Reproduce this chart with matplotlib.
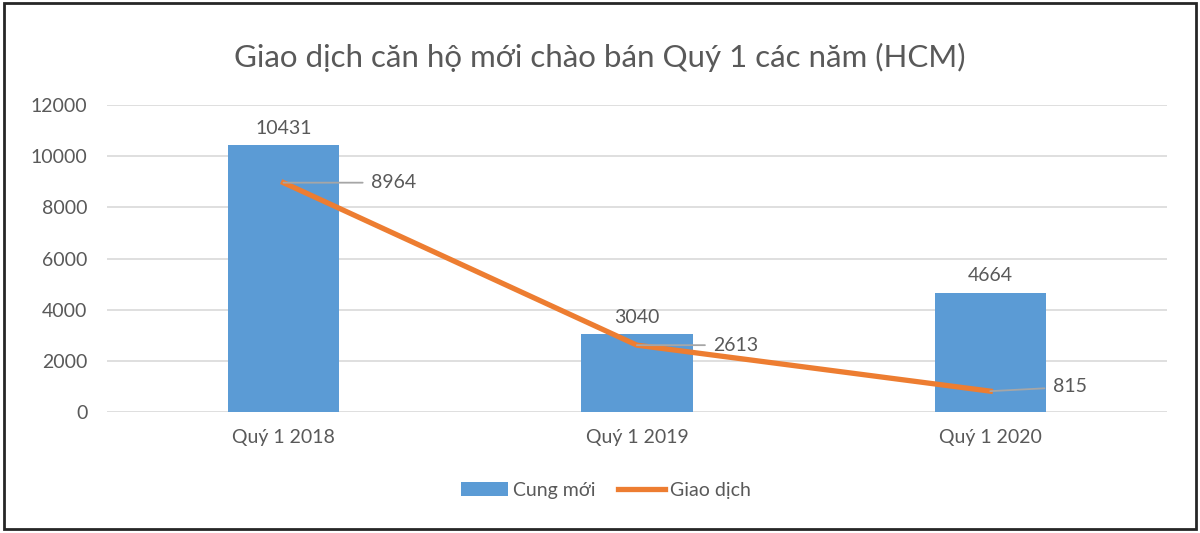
import matplotlib
matplotlib.use("Agg")
import matplotlib.pyplot as plt
from matplotlib.patches import Rectangle

plt.rcParams['font.family'] = ['Lato', 'DejaVu Sans']

categories = ["Quý 1 2018", "Quý 1 2019", "Quý 1 2020"]
cung_moi = [10431, 3040, 4664]
giao_dich = [8964, 2613, 815]
yticks = [0, 2000, 4000, 6000, 8000, 10000, 12000]

BLUE = "#5B9BD5"
ORANGE = "#ED7D31"
TEXT = "#595959"

fig = plt.figure(figsize=(12, 5.33), dpi=100)
ax = fig.add_axes([0.089, 0.227, 0.8835, 0.576])

x = list(range(len(categories)))
bar_c = ax.bar(x, cung_moi, width=0.315, color=BLUE, label="Cung mới", zorder=2)
line_c, = ax.plot(x, giao_dich, color=ORANGE, lw=3.8, label="Giao dịch", zorder=3,
                  solid_joinstyle='round')

ax.set_xlim(-0.5, 2.5)
ax.set_ylim(0, 12000)
ax.set_yticks(yticks)
ax.set_yticklabels([str(v) for v in yticks])
ax.set_xticks(x)
ax.set_xticklabels(categories)
ax.tick_params(axis='both', length=0, colors=TEXT, labelsize=14)
ax.tick_params(axis='y', pad=14)
ax.tick_params(axis='x', pad=12)
ax.grid(axis='y', color="#D9D9D9", lw=1.2, zorder=0)
ax.set_axisbelow(True)
for s in ax.spines.values():
    s.set_visible(False)

for xi, v in zip(x, cung_moi):
    ax.annotate(str(v), (xi, v), xytext=(0, 6), textcoords='offset points',
                ha='center', va='bottom', fontsize=14, color=TEXT)

offsets = [(63, 0), (55, 0), (45, 3)]
for xi, v, off in zip(x, giao_dich, offsets):
    ax.annotate(str(v), (xi, v), xytext=off, textcoords='offset points',
                ha='left', va='center', fontsize=14, color=TEXT,
                arrowprops=dict(arrowstyle='-', color="#A6A6A6", lw=1.3,
                                shrinkA=4, shrinkB=0), zorder=4)

fig.suptitle("Giao dịch căn hộ mới chào bán Quý 1 các năm (HCM)",
             y=0.92, fontsize=22.5, color=TEXT)

leg = fig.legend([bar_c, line_c], ["Cung mới", "Giao dịch"],
                 loc='center', bbox_to_anchor=(0.505, 0.08), ncol=2,
                 frameon=False, fontsize=14, handlelength=2.4,
                 columnspacing=1.2, handletextpad=0.25)
for t in leg.get_texts():
    t.set_color(TEXT)

fig.patches.append(Rectangle((0.003, 0.008), 0.994, 0.987, transform=fig.transFigure,
                             fill=False, edgecolor="#262626", lw=2))

fig.savefig("out.png", dpi=100, facecolor="white")
